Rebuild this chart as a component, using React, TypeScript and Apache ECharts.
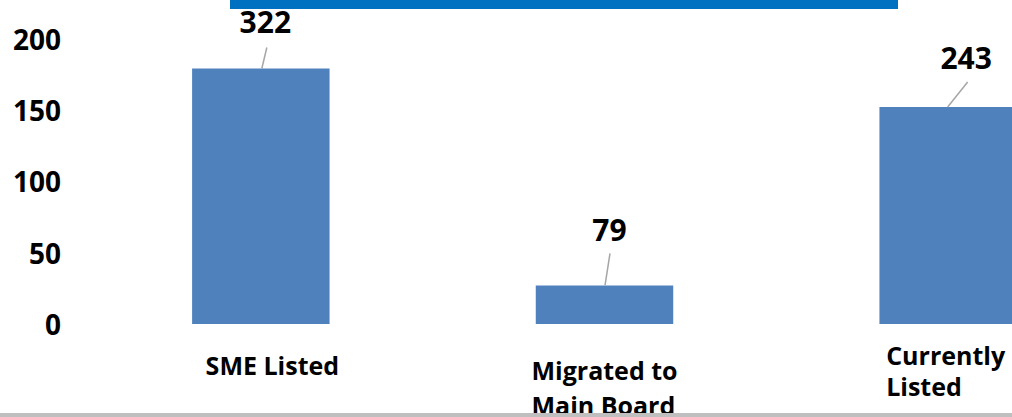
import React, { useEffect, useRef } from "react";
import * as echarts from "echarts";

// ---- data ----
const CATEGORIES = ["SME Listed", "Migrated to\nMain Board", "Currently\nListed"];
const BAR_VALUES = [179, 27, 152];
const VALUE_LABELS = ["322", "79", "243"];
const Y_MIN = 0;
const Y_MAX = 200;
const Y_INTERVAL = 50;

// ---- layout / style constants ----
const FONT = "'Open Sans', 'Liberation Sans', sans-serif";
const BAR_COLOR = "#4f81bd";
const BANNER_COLOR = "#0070c0";
const LEADER_COLOR = "#a6a6a6";
const CHART_WIDTH = 1120; // plot continues past the visible right edge
// offsets relative to the bar's top-centre point
const LABEL_LAYOUT = [
  { lx1: 1, lx2: 6, ly: -21, tx: 4.5, ty: -47 },
  { lx1: 0.5, lx2: 5.5, ly: -32, tx: 5, ty: -56 },
  { lx1: -0.5, lx2: 19.5, ly: -25, tx: 18, ty: -50 },
];
const X_LABEL_STYLE = [
  { padding: [10, 0, 0, 23] },
  { padding: [14, 0, 0, 0] },
  { padding: [1, 5, 0, 0] },
];
const X_LABEL_LINE_HEIGHT = [34, 35, 31];

export default function App() {
  const ref = useRef<HTMLDivElement>(null);

  useEffect(() => {
    if (!ref.current) return;
    const chart = echarts.init(ref.current, null, { renderer: "svg" });

    const richStyles: Record<string, any> = {};
    X_LABEL_LINE_HEIGHT.forEach((lh, i) => {
      richStyles["r" + i] = {
        align: "left",
        fontSize: 25,
        fontWeight: "bold",
        fontFamily: FONT,
        color: "#000",
        lineHeight: lh,
      };
    });

    chart.setOption({
      animation: false,
      backgroundColor: "#ffffff",
      grid: { left: 89, right: 0, top: 38.5, bottom: 92, containLabel: false },
      xAxis: {
        type: "category",
        data: CATEGORIES.map((c, i) => ({ value: c, textStyle: X_LABEL_STYLE[i] })),
        axisLine: { show: false },
        axisTick: { show: false },
        splitLine: { show: false },
        axisLabel: {
          interval: 0,
          margin: 14,
          fontSize: 25,
          fontWeight: "bold",
          fontFamily: FONT,
          color: "#000",
          formatter: (value: string, index: number) =>
            value
              .split("\n")
              .map((s) => `{r${index}|${s}}`)
              .join("\n"),
          rich: richStyles,
        },
      },
      yAxis: {
        type: "value",
        min: Y_MIN,
        max: Y_MAX,
        interval: Y_INTERVAL,
        axisLine: { show: false },
        axisTick: { show: false },
        splitLine: { show: false },
        axisLabel: {
          margin: 28,
          fontSize: 28,
          fontWeight: "bold",
          fontFamily: FONT,
          color: "#000",
        },
      },
      series: [
        {
          type: "bar",
          data: BAR_VALUES,
          barCategoryGap: "60%",
          itemStyle: { color: BAR_COLOR },
          label: { show: false },
        },
        {
          type: "custom",
          data: BAR_VALUES.map((v, i) => [i, v]),
          z: 10,
          renderItem: (params: any, api: any) => {
            const i = params.dataIndex;
            const top = api.coord([api.value(0), api.value(1)]);
            const o = LABEL_LAYOUT[i];
            return {
              type: "group",
              children: [
                {
                  type: "line",
                  shape: {
                    x1: top[0] + o.lx1,
                    y1: top[1],
                    x2: top[0] + o.lx2,
                    y2: top[1] + o.ly,
                  },
                  style: { stroke: LEADER_COLOR, lineWidth: 1.5 },
                },
                {
                  type: "text",
                  x: top[0] + o.tx,
                  y: top[1] + o.ty,
                  style: {
                    text: VALUE_LABELS[i],
                    fontSize: 30,
                    fontWeight: "bold",
                    fontFamily: FONT,
                    fill: "#000",
                    align: "center",
                    verticalAlign: "middle",
                  },
                },
              ],
            };
          },
        },
      ],
      graphic: [
        {
          type: "rect",
          left: 230,
          top: 0,
          shape: { width: 668, height: 9 },
          style: { fill: BANNER_COLOR },
          z: 100,
        },
        {
          type: "rect",
          left: 0,
          top: 413,
          shape: { width: CHART_WIDTH, height: 4 },
          style: { fill: "#bfbfbf" },
          z: 100,
        },
      ],
    });

    return () => chart.dispose();
  }, []);

  return (
    <div
      style={{
        position: "absolute",
        left: 0,
        top: 0,
        width: 1012,
        height: 417,
        overflow: "hidden",
        background: "#fff",
      }}
    >
      <div ref={ref} style={{ width: CHART_WIDTH, height: 417 }} />
    </div>
  );
}
